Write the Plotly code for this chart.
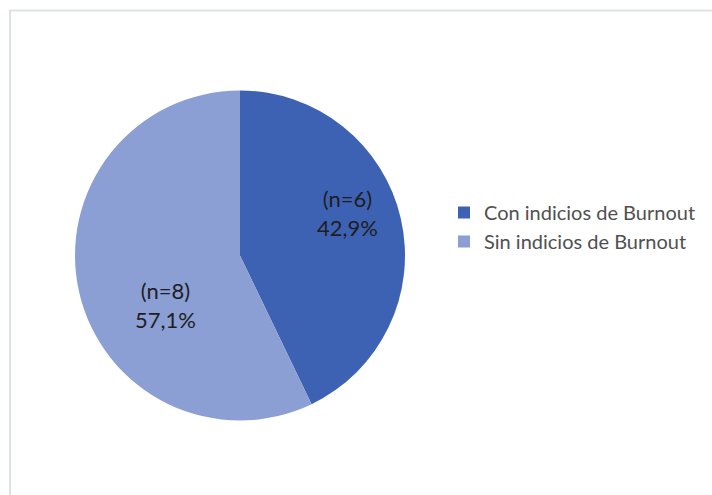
import plotly.graph_objects as go

categories = ["Con indicios de Burnout", "Sin indicios de Burnout"]
counts = [6, 8]
percent_labels = ["42,9%", "57,1%"]
colors = ["#3d62b3", "#8b9fd4"]

texts = [f"(n={n})<br>{p}" for n, p in zip(counts, percent_labels)]

W, H = 712, 495
cx, cy, r = 240, 255.5, 165

fig = go.Figure(go.Pie(
    labels=categories,
    values=counts,
    textinfo="none",
    marker=dict(colors=colors, line=dict(width=0)),
    sort=False,
    direction="clockwise",
    rotation=0,
    hole=0,
    domain=dict(x=[(cx - r) / W, (cx + r) / W], y=[(H - cy - r) / H, (H - cy + r) / H]),
))

# slice labels placed like the reference (Excel-style data labels)
label_pos = [(347, 213), (133, 305)]
for t, (lx, ly) in zip(texts, label_pos):
    fig.add_annotation(
        x=lx / W, y=(H - ly) / H, xref="paper", yref="paper",
        text=t, showarrow=False, align="center",
        font=dict(family="Lato", size=22, color="#1e1e1e"),
    )

fig.update_layout(
    width=W, height=H,
    margin=dict(l=0, r=0, t=0, b=0),
    paper_bgcolor="white",
    showlegend=True,
    legend=dict(
        x=444 / W, y=(H - 193) / H, xanchor="left", yanchor="top",
        font=dict(family="Lato", size=20, color="#505050"),
        itemwidth=30,
    ),
    shapes=[dict(type="rect", xref="paper", yref="paper",
                 x0=10 / W, x1=1.02, y0=-0.02, y1=(H - 10.5) / H,
                 line=dict(color="#dde1e8", width=2), fillcolor="rgba(0,0,0,0)")],
)

fig.write_html("out.html")
